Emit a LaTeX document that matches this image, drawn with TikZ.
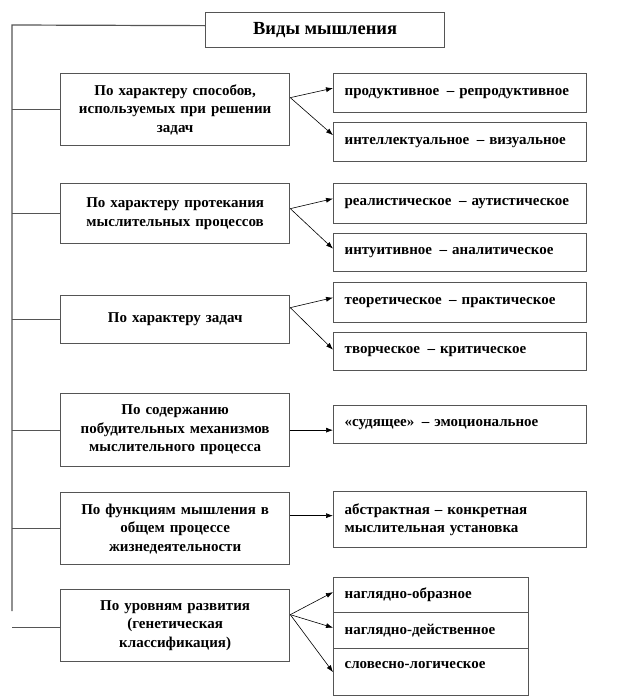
\documentclass[tikz,border=0pt]{standalone}
\usepackage{fontspec}
\setmainfont{Liberation Serif}
\usetikzlibrary{arrows.meta,positioning,calc}
\definecolor{boxgray}{RGB}{85,85,85}

\begin{document}
\begin{tikzpicture}[x=1pt,y=-1pt,
    every node/.style={font=\fontsize{15}{18.5}\selectfont\bfseries},
    leftbox/.style={draw=boxgray,line width=1.3pt,anchor=north west,
      minimum width=229pt,text width=227pt,align=center,inner xsep=1pt,inner ysep=0pt},
    rightbox/.style={draw=boxgray,line width=1.3pt,anchor=north west,
      minimum width=253pt,text width=231pt,align=left,inner xsep=11pt,inner ysep=0pt},
    branch/.style={draw=boxgray,line width=1.2pt},
    pointer/.style={-{Latex[length=7pt,width=5pt]},line width=0.6pt}]
  \useasboundingbox (0,0) rectangle (624,699);
  % title
  \node[draw=boxgray,line width=1.3pt,anchor=north west,minimum width=239pt,minimum height=35pt,
        font=\fontsize{18.5}{20}\selectfont\bfseries]
    (title) at (205,12) {Виды мышления};
  % criteria
  \node[leftbox,minimum height=72pt] (c1) at (60,73)
    {По характеру способов,\\ используемых при решении\\ задач};
  \node[leftbox,minimum height=60pt] (c2) at (60,183)
    {По характеру протекания\\ мыслительных процессов};
  \node[leftbox,minimum height=48pt] (c3) at (60,295) {По характеру задач};
  \node[leftbox,minimum height=73pt] (c4) at (60,393)
    {По содержанию\\ побудительных механизмов\\ мыслительного процесса};
  \node[leftbox,minimum height=72pt] (c5) at (60,492)
    {По функциям мышления в\\ общем процессе\\ жизнедеятельности};
  \node[leftbox,minimum height=72pt] (c6) at (60,589)
    {По уровням развития\\ (генетическая\\ классификация)};
  % kinds
  \node[rightbox,minimum height=39pt] (r1a) at (333,73) {продуктивное \,– репродуктивное};
  \node[rightbox,minimum height=39pt] (r1b) at (333,122) {интеллектуальное \,– визуальное};
  \node[rightbox,minimum height=40pt] (r2a) at (333,183) {реалистическое \,– аутистическое};
  \node[rightbox,minimum height=38pt] (r2b) at (333,233) {интуитивное \,– аналитическое};
  \node[rightbox,minimum height=40pt] (r3a) at (333,282) {теоретическое \,– практическое};
  \node[rightbox,minimum height=38pt] (r3b) at (333,332) {творческое \,– критическое};
  \node[rightbox,minimum height=38pt] (r4) at (333,405) {«судящее» \,– эмоциональное};
  \node[rightbox,minimum height=56pt] (r5) at (333,491)
    {абстрактная – конкретная\\ мыслительная установка};
  \node[rightbox,minimum width=195pt,text width=173pt,minimum height=35pt] (r6a) at (333,577) {наглядно-образное};
  \node[rightbox,minimum width=195pt,text width=173pt,minimum height=36pt] (r6b) at (333,612) {наглядно-действенное};
  \node[rightbox,minimum width=195pt,text width=173pt,minimum height=47pt,text depth=15pt] (r6c) at (333,648) {словесно-логическое};
  % tree on the left
  \coordinate (top) at (12,25);
  \coordinate (bottom) at (12,611);
  \draw[branch] ([yshift=4.5pt]title.west) -- (top) -- (bottom);
  \foreach \c in {c1,c2,c3,c4,c5}
    \draw[branch] (\c.west) -- (\c.west -| top);
  \draw[branch] ([yshift=-2pt]c6.west) -- ++(-48,0);
  % arrows
  \draw[pointer] ([yshift=12pt]c1.east) -- ([yshift=5pt]r1a.west);
  \draw[pointer] ([yshift=12pt]c1.east) -- ([yshift=7pt]r1b.west);
  \draw[pointer] ([yshift=5pt]c2.east) -- ([yshift=5pt]r2a.west);
  \draw[pointer] ([yshift=5pt]c2.east) -- ([yshift=4pt]r2b.west);
  \draw[pointer] ([yshift=12pt]c3.east) -- ([yshift=5pt]r3a.west);
  \draw[pointer] ([yshift=12pt]c3.east) -- ([yshift=2pt]r3b.west);
  \draw[pointer] (c4.east) -- (c4.east -| r4.west);
  \draw[pointer] ([yshift=13pt]c5.east) -- ([yshift=13pt]c5.east -| r5.west);
  \draw[pointer] ([yshift=11pt]c6.east) -- ([yshift=3pt]r6a.west);
  \draw[pointer] ([yshift=11pt]c6.east) -- ([yshift=3pt]r6b.west);
  \draw[pointer] ([yshift=11pt]c6.east) -- ([yshift=0pt]r6c.west);
\end{tikzpicture}
\end{document}
